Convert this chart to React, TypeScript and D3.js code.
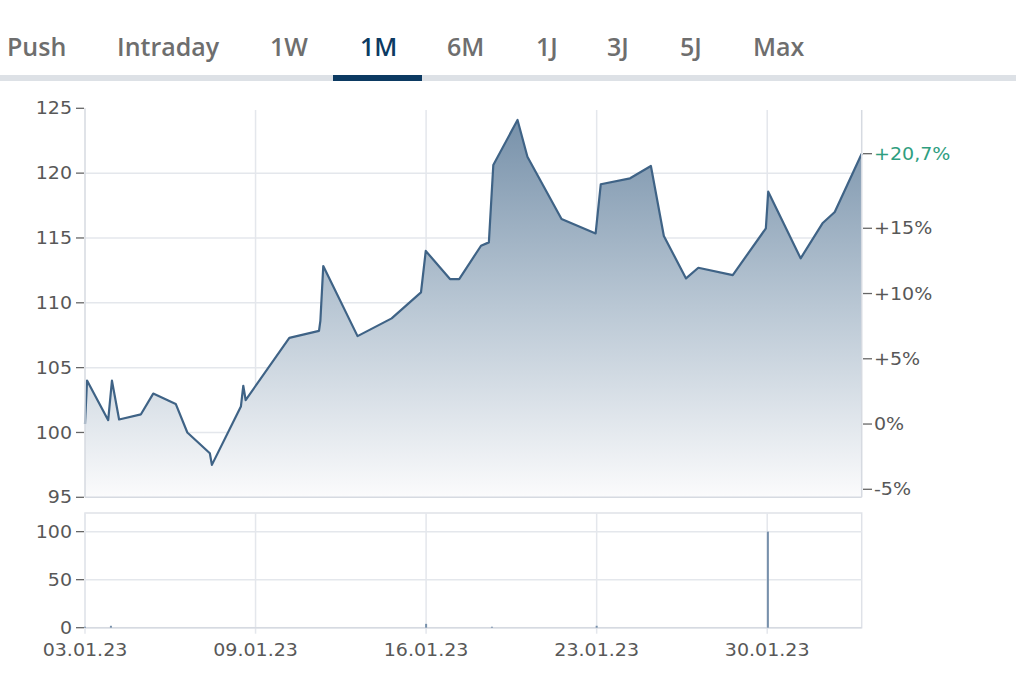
import React from "react";
import * as d3 from "d3";

// ---- data ----
const tabLabels = ["Push", "Intraday", "1W", "1M", "6M", "1J", "3J", "5J", "Max"];
const activeTab = "1M";

// trading-day offset since 03.01.23
const priceT = [
  0, 0.06, 0.68, 0.79, 1.0, 1.64, 2.0, 2.66, 3.0, 3.66, 3.72, 4.57, 4.64, 4.71,
  5.99, 6.86, 6.9, 6.985, 7.99, 8.99, 9.85, 9.99, 10.7, 10.97, 11.61, 11.84,
  11.97, 12.68, 12.97, 13.97, 14.97, 15.12, 15.98, 16.59, 16.97, 17.62, 17.98,
  18.99, 19.96, 20.03, 20.98, 21.62, 21.98, 22.77,
];
const priceV = [
  100.65, 104.0, 100.95, 104.0, 101.0, 101.4, 103.0, 102.2, 100.0, 98.4, 97.5,
  102.0, 103.6, 102.5, 107.3, 107.84, 108.6, 112.83, 107.43, 108.8, 110.8, 114.0,
  111.83, 111.83, 114.4, 114.66, 120.63, 124.1, 121.27, 116.46, 115.35, 119.14,
  119.6, 120.55, 115.15, 111.88, 112.7, 112.14, 115.74, 118.57, 113.43, 116.13,
  117.0, 121.5,
];

const volumeT = [0, 0.76, 10.0, 11.93, 15.0, 20.02];
const volumeV = [1, 2, 4, 1, 2, 100];

const dateTicks = [0, 5, 10, 15, 20];
const dateLabels = ["03.01.23", "09.01.23", "16.01.23", "23.01.23", "30.01.23"];
const priceTicks = [95, 100, 105, 110, 115, 120, 125];
const pctTicks = [-5, 0, 5, 10, 15];
const volumeTicks = [0, 50, 100];

// ---- layout ----
const TAB_X = [7, 117, 270, 360, 447, 536, 607, 680, 753];
const X0 = 85;
const X1 = 861.7;
const MAIN_TOP = 108.3;
const MAIN_BOTTOM = 497.3;
const VOL_TOP = 513;
const VOL_BOTTOM = 627.7;
const FONT = "'DejaVu Sans', Verdana, sans-serif";
const LABEL_COLOR = "#585858";
const GRID = "#e4e7ec";
const SX = 1.12;

export default function App() {
  const x = d3.scaleLinear().domain([0, 22.77]).range([X0, X1]);
  const y = d3.scaleLinear().domain([95, 125]).range([MAIN_BOTTOM, MAIN_TOP]);
  const yv = d3.scaleLinear().domain([0, 119.4]).range([VOL_BOTTOM, VOL_TOP]);

  const pts: [number, number][] = priceT.map((t, i) => [t, priceV[i]]);
  const line = d3
    .line<[number, number]>()
    .x((d) => x(d[0]))
    .y((d) => y(d[1]));
  const area = d3
    .area<[number, number]>()
    .x((d) => x(d[0]))
    .y0(MAIN_BOTTOM)
    .y1((d) => y(d[1]));

  const base = priceV[0];
  const last = priceV[priceV.length - 1];
  const lastPct = (last / base - 1) * 100;
  const fmtPct = (p: number) =>
    p === 0 ? "0%" : (p > 0 ? "+" : "-") + Math.abs(p).toFixed(0) + "%";

  const label = (
    txt: string,
    tx: number,
    ty: number,
    anchor: "start" | "middle" | "end",
    color = LABEL_COLOR,
    key?: string
  ) => (
    <text
      key={key}
      transform={`translate(${tx},${ty}) scale(${SX},1)`}
      textAnchor={anchor}
      dy="0.36em"
      fontFamily={FONT}
      fontSize={17}
      fill={color}
    >
      {txt}
    </text>
  );

  return (
    <svg
      width={1024}
      height={688}
      style={{ position: "absolute", left: 0, top: 0, background: "#fff" }}
    >
      <defs>
        <linearGradient id="areaGrad" gradientUnits="userSpaceOnUse" x1="0" y1={115} x2="0" y2={MAIN_BOTTOM}>
          <stop offset="0" stopColor="#7690a9" />
          <stop offset="0.5" stopColor="#b9c7d4" />
          <stop offset="1" stopColor="#fbfbfc" />
        </linearGradient>
      </defs>

      {/* tabs */}
      <rect x={0} y={75} width={1016} height={6} fill="#dde1e6" />
      {tabLabels.map((t, i) => (
        <text
          key={t}
          x={TAB_X[i]}
          y={55.5}
          fontFamily="'Open Sans', sans-serif"
          fontWeight={600}
          fontSize={25}
          fill={t === activeTab ? "#0c3a62" : "#6e6e6e"}
        >
          {t}
        </text>
      ))}
      <rect x={333} y={75} width={89} height={6} fill="#0c3a62" />

      {/* main grid */}
      {priceTicks.filter((v) => v !== 125 && v !== 95).map((v) => (
        <line key={"hg" + v} x1={X0} x2={X1} y1={y(v)} y2={y(v)} stroke={GRID} strokeWidth={1.5} />
      ))}
      {dateTicks.slice(1).map((t) => (
        <line key={"vg" + t} x1={x(t)} x2={x(t)} y1={110} y2={MAIN_BOTTOM} stroke={GRID} strokeWidth={1.5} />
      ))}

      {/* area + line */}
      <path d={area(pts) ?? ""} fill="url(#areaGrad)" />
      <path d={line(pts) ?? ""} fill="none" stroke="#3f6386" strokeWidth={2.2} strokeLinejoin="round" />

      {/* main axes lines */}
      <line x1={X0} x2={X0} y1={MAIN_TOP} y2={MAIN_BOTTOM} stroke="#d6dae1" strokeWidth={1.5} />
      <line x1={X1} x2={X1} y1={110} y2={MAIN_BOTTOM} stroke="#d6dae1" strokeWidth={1.5} />
      <line x1={X0} x2={X1} y1={MAIN_BOTTOM} y2={MAIN_BOTTOM} stroke="#d6dae1" strokeWidth={1.5} />

      {/* left price axis */}
      {priceTicks.map((v) => (
        <g key={"pt" + v}>
          <line x1={76} x2={84} y1={y(v)} y2={y(v)} stroke="#666" strokeWidth={1.3} />
          {label(String(v), 72, y(v), "end")}
        </g>
      ))}

      {/* right pct axis */}
      {pctTicks.map((p) => {
        const yy = y(base * (1 + p / 100));
        return (
          <g key={"pc" + p}>
            <line x1={863} x2={872} y1={yy} y2={yy} stroke="#666" strokeWidth={1.3} />
            {label(fmtPct(p), 874, yy, "start")}
          </g>
        );
      })}
      <line x1={863} x2={872} y1={y(last)} y2={y(last)} stroke="#666" strokeWidth={1.3} />
      {label("+" + lastPct.toFixed(1).replace(".", ",") + "%", 874, y(last), "start", "#2f9e80")}

      {/* volume panel */}
      <rect x={X0} y={VOL_TOP} width={X1 - X0} height={VOL_BOTTOM - VOL_TOP} fill="none" stroke="#dfe2e8" strokeWidth={1.5} />
      {volumeTicks.filter((v) => v > 0).map((v) => (
        <line key={"vh" + v} x1={X0} x2={X1} y1={yv(v)} y2={yv(v)} stroke={GRID} strokeWidth={1.5} />
      ))}
      {dateTicks.map((t) => (
        <line key={"vv" + t} x1={x(t)} x2={x(t)} y1={VOL_TOP} y2={VOL_BOTTOM + 6} stroke={GRID} strokeWidth={1.5} />
      ))}
      <line x1={X0} x2={X1} y1={VOL_BOTTOM} y2={VOL_BOTTOM} stroke="#d6dae1" strokeWidth={1.5} />
      {volumeT.map((t, i) => (
        <line
          key={"vb" + i}
          x1={x(t)}
          x2={x(t)}
          y1={VOL_BOTTOM}
          y2={yv(volumeV[i])}
          stroke="#7790ab"
          strokeWidth={2}
        />
      ))}
      {volumeTicks.map((v) => (
        <g key={"vt" + v}>
          <line x1={76} x2={84} y1={yv(v)} y2={yv(v)} stroke="#666" strokeWidth={1.3} />
          {label(String(v), 72, yv(v), "end")}
        </g>
      ))}

      {/* date labels */}
      {dateTicks.map((t, i) => label(dateLabels[i], x(t), 650, "middle", LABEL_COLOR, "dl" + t))}
    </svg>
  );
}
